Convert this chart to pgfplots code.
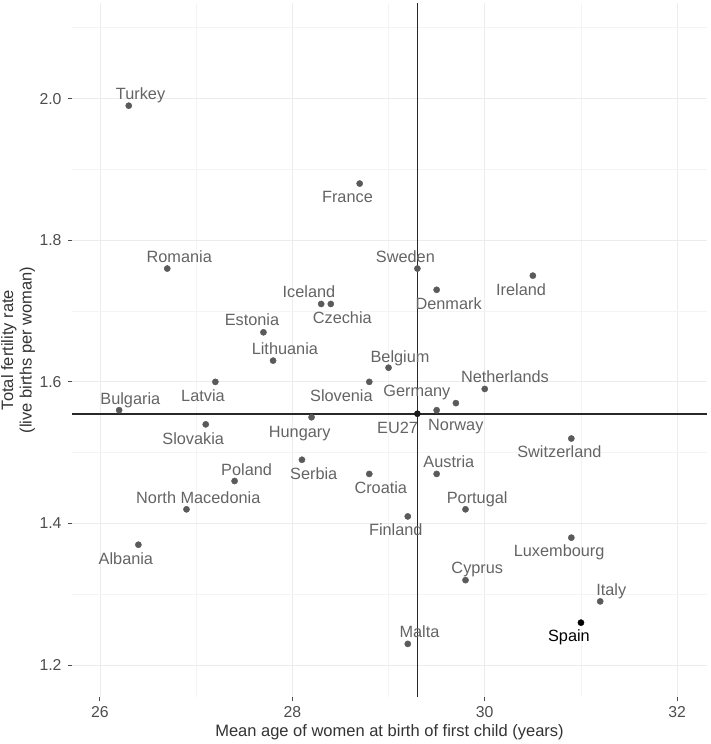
\documentclass[border=0pt]{standalone}
\usepackage{pgfplots}
\pgfplotsset{compat=1.18}
\usepackage{pgfplotstable}
\usepackage{fontspec}
\setmainfont{Liberation Sans}
\definecolor{labgray}{RGB}{100,100,100}
\definecolor{ptgray}{RGB}{90,90,90}
\definecolor{ticktext}{RGB}{77,77,77}
\definecolor{refline}{RGB}{40,40,40}
\definecolor{gridc}{RGB}{236,236,236}
\definecolor{gridminor}{RGB}{244,244,244}

\pgfplotstableread[col sep=comma]{
x,y,label,dx,dy
26.3,1.99,Turkey,11.8,6.4
28.7,1.88,France,-12.2,-19
26.7,1.76,Romania,12,6.3
28.3,1.71,Iceland,-12.2,6.4
28.4,1.71,Czechia,11.5,-19.6
27.7,1.67,Estonia,-11.5,6.3
27.8,1.63,Lithuania,11.8,6.3
29.3,1.76,Sweden,-12,6.3
29.5,1.73,Denmark,12,-19.6
30.5,1.75,Ireland,-11.8,-20
29.0,1.62,Belgium,11.5,5.6
30.0,1.59,Netherlands,20.2,6.7
26.2,1.56,Bulgaria,11.2,5.7
27.2,1.60,Latvia,-12.4,-20
28.8,1.60,Slovenia,-27.9,-20
27.1,1.54,Slovakia,-12.5,-19.7
28.2,1.55,Hungary,-11.9,-20.3
27.4,1.46,Poland,12,6
28.1,1.49,Serbia,11.8,-19.6
26.9,1.42,North Macedonia,11.8,6
26.4,1.37,Albania,-12.5,-19.6
29.7,1.57,Germany,-39,6.3
29.5,1.56,Norway,19.2,-20
30.9,1.52,Switzerland,-11.9,-18.6
29.5,1.47,Austria,12.2,6.7
28.8,1.47,Croatia,11.5,-19.3
29.8,1.42,Portugal,11.7,6
29.2,1.41,Finland,-12,-19
30.9,1.38,Luxembourg,-12.2,-19.3
29.8,1.32,Cyprus,11.8,6.3
31.2,1.29,Italy,11.1,6
29.2,1.23,Malta,11.7,6.3
}\countries

\pgfplotstableread[col sep=comma]{
x,y,label,dx,dy
29.3,1.555,EU27,-19.8,-20
}\eu

\pgfplotstableread[col sep=comma]{
x,y,label,dx,dy
31.0,1.26,Spain,-12,-19.3
}\spain

\pgfplotsset{
  labelled/.style n args={2}{
    only marks, mark=*, mark size=3.1pt, mark options={draw=#1, fill=#1},
    point meta=explicit symbolic,
    visualization depends on={\thisrow{dx} \as \labdx},
    visualization depends on={\thisrow{dy} \as \labdy},
    nodes near coords,
    every node near coord/.append style={anchor=base, inner sep=0pt,
      xshift=\labdx pt, yshift=\labdy pt,
      font=\fontsize{16.3}{18}\selectfont, text=#2}
  }
}

\begin{document}
\begin{tikzpicture}
\path[use as bounding box] (-72pt,-47pt) rectangle (638pt,697pt);
\begin{axis}[
  at={(0pt,0pt)}, anchor=south west,
  scale only axis,
  width=635pt, height=694pt,
  xmin=25.71, xmax=32.31,
  ymin=1.155, ymax=2.135,
  clip=false,
  axis line style={draw=none},
  xtick={26,28,30,32},
  minor xtick={27,29,31},
  ytick={1.2,1.4,1.6,1.8,2.0},
  minor ytick={1.3,1.5,1.7,1.9,2.1},
  grid=both,
  major grid style={color=gridc, line width=0.8pt},
  minor grid style={color=gridminor, line width=0.6pt},
  xtick pos=bottom, ytick pos=left,
  tick align=outside,
  major tick length=4pt,
  minor tick length=0pt,
  tick style={color=black!70, line width=1pt},
  /pgf/number format/assume math mode=true,
  ticklabel style={font=\fontsize{15.8}{18}\selectfont, text=ticktext},
  yticklabel style={xshift=-3pt, /pgf/number format/.cd, fixed, fixed zerofill, precision=1},
  xticklabel style={yshift=-2pt},
  xlabel={Mean age of women at birth of first child (years)},
  ylabel={Total fertility rate\\(live births per woman)},
  label style={font=\fontsize{16.5}{18.5}\selectfont, text=black!80},
  xlabel style={at={(axis description cs:0.5,0)}, anchor=center, yshift=-35pt},
  ylabel style={at={(axis description cs:0,0.5)}, anchor=center, yshift=54pt, align=center},
]
\draw[refline, line width=1.8pt] (axis cs:29.3,1.155) -- (axis cs:29.3,2.135);
\draw[refline, line width=1.8pt] (axis cs:25.71,1.555) -- (axis cs:32.31,1.555);

\addplot[labelled={ptgray}{labgray}] table[x=x, y=y, meta=label] {\countries};
\addplot[labelled={black!90}{labgray}] table[x=x, y=y, meta=label] {\eu};
\addplot[labelled={black}{black}] table[x=x, y=y, meta=label] {\spain};
\end{axis}
\end{tikzpicture}
\end{document}
